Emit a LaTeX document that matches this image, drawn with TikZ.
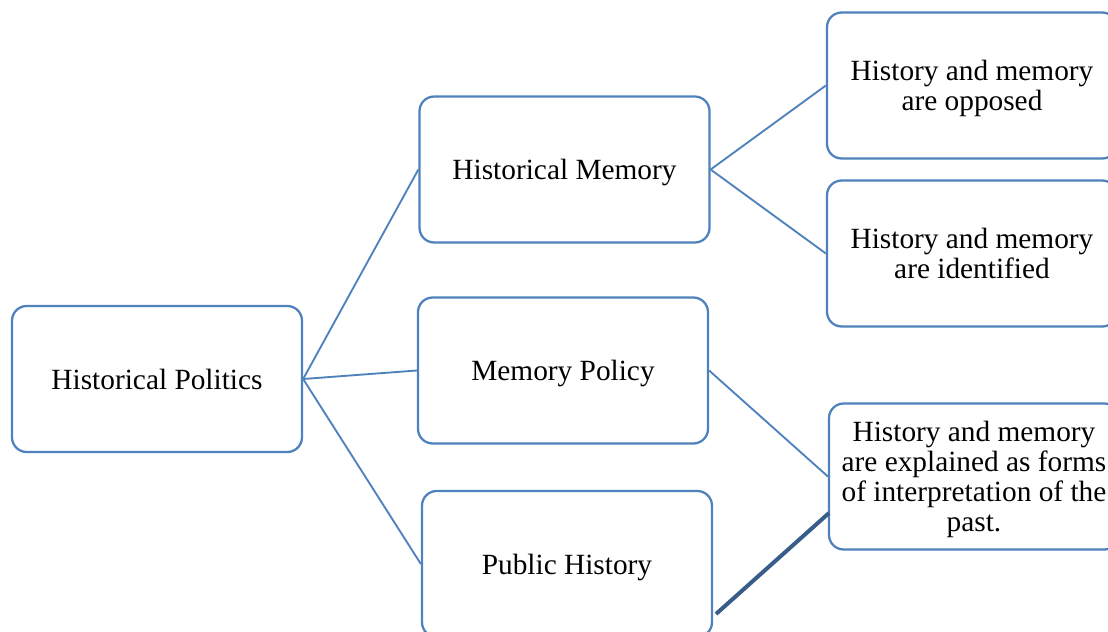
\documentclass[tikz,border=0pt]{standalone}
\usepackage{fontspec}
\setmainfont{Liberation Serif}
\definecolor{boxblue}{RGB}{79,129,189}
\definecolor{darkblue}{RGB}{56,93,138}
\tikzset{
  box/.style={draw=boxblue, line width=1.7pt, rounded corners=11pt, fill=white,
    minimum width=217.5pt, minimum height=109.5pt, align=center,
    font=\fontsize{22}{22.5}\selectfont, inner sep=0pt, text depth=0pt},
  link/.style={draw=boxblue, line width=1.4pt}
}
\begin{document}
\begin{tikzpicture}[x=0.75pt, y=-0.75pt]
\useasboundingbox (0,0) rectangle (1108,632);
\clip (0,0) rectangle (1108,632);
% first level
\node[box] (hp) at (157,379) {Historical Politics};
% second level
\node[box] (hm) at (564.5,169.5) {Historical Memory};
\node[box] (mp) at (563,370.5) {Memory Policy};
\node[box] (ph) at (567,564) {Public History};
% third level
\node[box] (ra) at (972,85.5) {History and memory\\are opposed};
\node[box] (rb) at (972,253.5) {History and memory\\are identified};
\node[box] (rc) at (974,476.5) {History and memory\\are explained as forms\\of interpretation of the\\past.};
\coordinate (phlow) at (716,614);
\coordinate (rclow) at (829,513);
    \draw[link] (hp.east)--(hm.west);
    \draw[link] (hp.east)--(mp.west);
    \draw[link] (hp.east)--(ph.west);
    \draw[link] (hm.east)--(ra.west);
    \draw[link] (hm.east)--(rb.west);
    \draw[link] (mp.east)--(rc.west);
    \draw[darkblue, line width=3pt] (phlow)--(rclow);
\end{tikzpicture}
\end{document}
